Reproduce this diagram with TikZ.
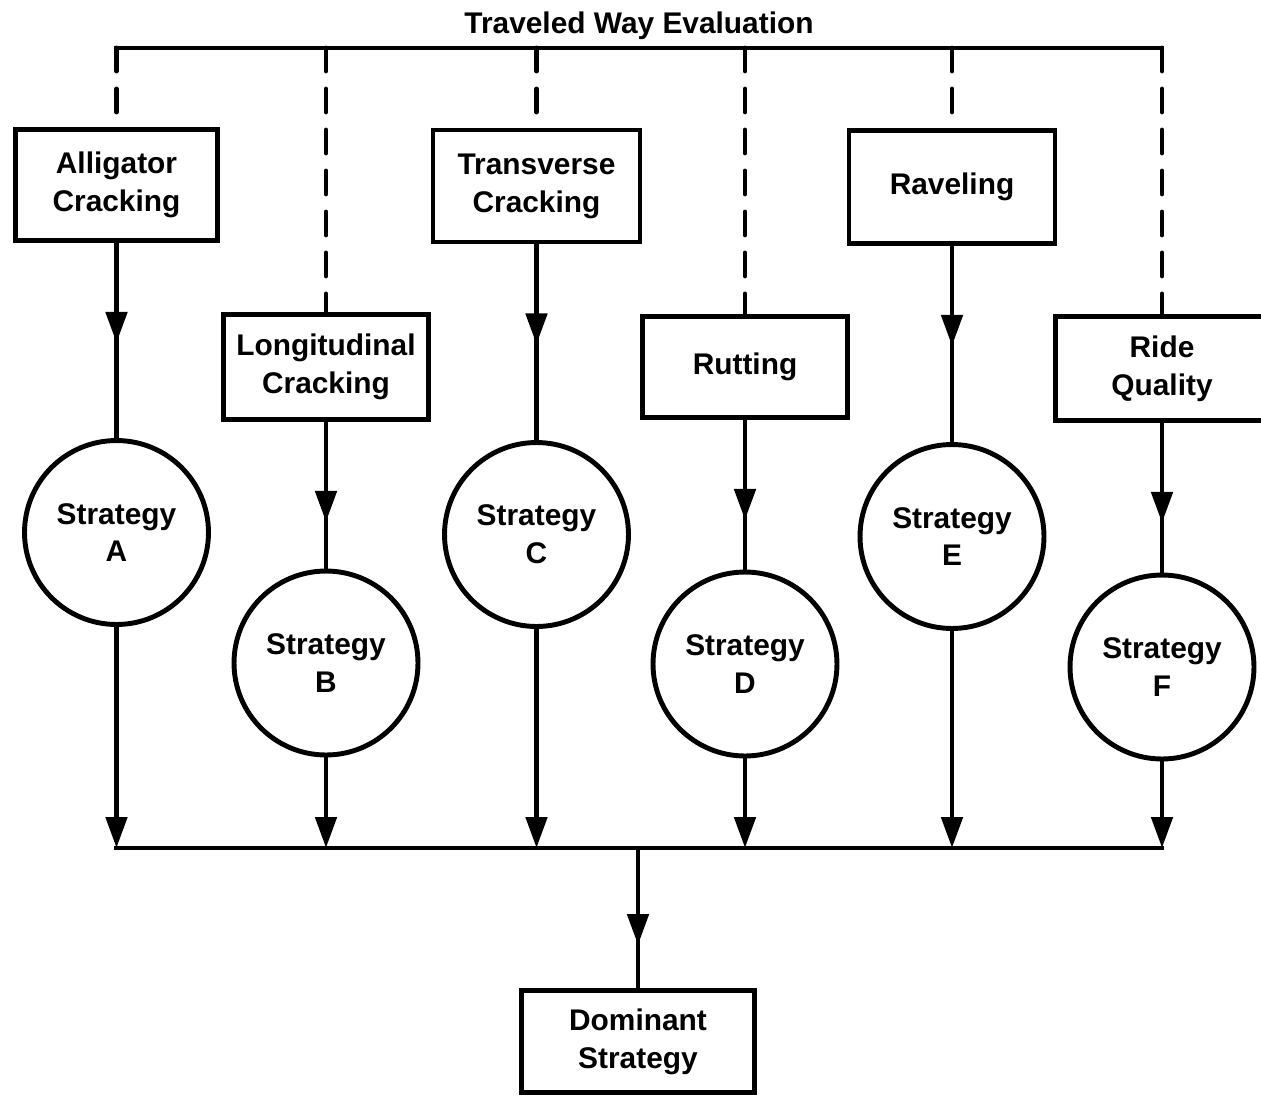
\documentclass[tikz,border=0pt]{standalone}
\usepackage{fontspec}
\setmainfont{Liberation Sans}
\usetikzlibrary{arrows.meta,decorations.markings}
\tikzset{
  lw/.style={line width=2.8pt},
  txt/.style={font=\fontsize{17}{21.5}\selectfont\bfseries, align=center, text=black},
  factor/.style={txt, draw, lw, rectangle, inner sep=0pt},
  strat/.style={txt, draw, lw, circle, minimum size=3.68cm, inner sep=0pt},
  tipshape/.tip={Triangle[length=0.62cm,width=0.42cm]},
  feed/.style={lw, dash pattern=on 0.46cm off 0.36cm, line cap=round},
  midarrow/.style={lw, postaction={decorate}, decoration={markings, mark=at position #1 with {\arrow{tipshape}}}},
  endarrow/.style={lw, -{tipshape}},
  bus/.style={lw, line cap=rect},
}
\begin{document}
\begin{tikzpicture}[x=0.02cm,y=-0.02cm]
\useasboundingbox (0,0) rectangle (1261,1096);

% title
\node[txt, anchor=base] (title) at (639,33) {Traveled Way Evaluation};

% top bus
\coordinate (tA) at (116.5,48);
\coordinate (tB) at (326,48);
\coordinate (tC) at (536.5,48);
\coordinate (tD) at (745,48);
\coordinate (tE) at (952,48);
\coordinate (tF) at (1162,48);
\draw[bus] (tA) -- (tF);

% factor boxes
\node[factor, minimum width=4.04cm, minimum height=2.22cm] (fA) at (116.5,185) {Alligator\\Cracking};
\node[factor, minimum width=4.10cm, minimum height=2.10cm] (fB) at (326,367) {Longitudinal\\Cracking};
\node[factor, minimum width=4.14cm, minimum height=2.24cm] (fC) at (536.5,186) {Transverse\\Cracking};
\node[factor, minimum width=4.10cm, minimum height=2.02cm] (fD) at (745,367) {Rutting};
\node[factor, minimum width=4.12cm, minimum height=2.26cm] (fE) at (952,187) {Raveling};
\node[factor, minimum width=4.26cm, minimum height=2.08cm] (fF) at (1162,368.5) {Ride\\Quality};

% dashed feeds
\draw[feed] (tA) -- (fA.north);
\draw[feed] (tB) -- (fB.north);
\draw[feed] (tC) -- (fC.north);
\draw[feed] (tD) -- (fD.north);
\draw[feed] (tE) -- (fE.north);
\draw[feed] (tF) -- (fF.north);

% strategies
\node[strat] (sA) at (116.5,532.5) {Strategy\\A};
\node[strat] (sB) at (326,663) {Strategy\\B};
\node[strat] (sC) at (536.5,534.5) {Strategy\\C};
\node[strat] (sD) at (745,664) {Strategy\\D};
\node[strat] (sE) at (952,536.5) {Strategy\\E};
\node[strat] (sF) at (1162,667) {Strategy\\F};

\draw[midarrow=2cm] (fA) -- (sA);
\draw[midarrow=2cm] (fB) -- (sB);
\draw[midarrow=2cm] (fC) -- (sC);
\draw[midarrow=2cm] (fD) -- (sD);
\draw[midarrow=2cm] (fE) -- (sE);
\draw[midarrow=2cm] (fF) -- (sF);

% bottom bus
\coordinate (bA) at (116.5,848);
\coordinate (bB) at (326,848);
\coordinate (bC) at (536.5,848);
\coordinate (bD) at (745,848);
\coordinate (bE) at (952,848);
\coordinate (bF) at (1162,848);
\coordinate (bM) at (638,848);
\draw[bus] (bA) -- (bF);

\draw[endarrow] (sA) -- (bA);
\draw[endarrow] (sB) -- (bB);
\draw[endarrow] (sC) -- (bC);
\draw[endarrow] (sD) -- (bD);
\draw[endarrow] (sE) -- (bE);
\draw[endarrow] (sF) -- (bF);

% dominant
\node[factor, minimum width=4.66cm, minimum height=2.04cm] (dom) at (638,1041.5) {Dominant\\Strategy};
\draw[midarrow=1.94cm] (bM) -- (dom);
\end{tikzpicture}
\end{document}
